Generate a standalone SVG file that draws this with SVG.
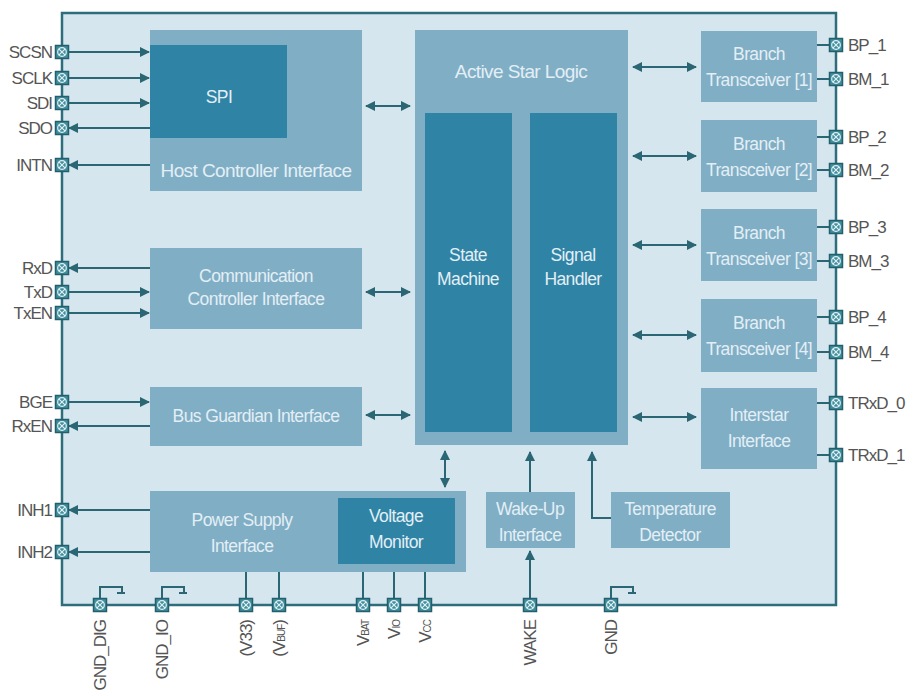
<svg xmlns="http://www.w3.org/2000/svg" width="913" height="696" viewBox="0 0 913 696">
<style>
.chip{fill:#d5e6ef;stroke:#2e6d7c;stroke-width:2.5}
.mid{fill:#80aec5}
.dark{fill:#2f83a5}
.bt{font-family:"Liberation Sans",Arial,sans-serif;font-size:17.5px;fill:#e3eff5;text-anchor:middle;letter-spacing:-0.6px}
.big{font-size:19px}
.lbl{font-family:"Liberation Sans",Arial,sans-serif;font-size:17px;fill:#555;letter-spacing:-1px}
.c{fill:none;stroke:#2a6674;stroke-width:2}
.a{marker-end:url(#ah)}
.b{marker-start:url(#ahs);marker-end:url(#ah)}
</style>
<defs>
<marker id="ah" viewBox="0 0 10 10" refX="9" refY="5" markerWidth="10" markerHeight="10" markerUnits="userSpaceOnUse" orient="auto"><path d="M0,0 L10,5 L0,10 z" fill="#2a6674"/></marker>
<marker id="ahs" viewBox="0 0 10 10" refX="1" refY="5" markerWidth="10" markerHeight="10" markerUnits="userSpaceOnUse" orient="auto"><path d="M10,0 L0,5 L10,10 z" fill="#2a6674"/></marker>
<g id="pin"><rect x="-6.5" y="-6.5" width="13" height="13" fill="#3e8e9d" stroke="#255f6c" stroke-width="1.5"/><circle r="4.3" fill="none" stroke="#e2f0f3" stroke-width="1.2"/><path d="M-3.2,-3.2 L3.2,3.2 M3.2,-3.2 L-3.2,3.2" stroke="#e2f0f3" stroke-width="1.2"/></g>
</defs>
<rect width="913" height="696" fill="#ffffff"/>
<rect id="chip" class="chip" x="62" y="13" width="774" height="592"/>

<g id="host-controller-interface"><rect class="mid" x="150" y="30" width="212" height="161"/><text class="bt big" x="256" y="177">Host Controller Interface</text></g>
<g id="spi"><rect class="dark" x="150" y="45" width="137" height="93"/><text class="bt" x="219" y="103">SPI</text></g>
<g id="comm-controller-interface"><rect class="mid" x="150" y="248" width="212" height="81"/><text class="bt" x="256" y="282">Communication</text><text class="bt" x="256" y="305">Controller Interface</text></g>
<g id="bus-guardian-interface"><rect class="mid" x="150" y="387" width="212" height="59"/><text class="bt" x="256" y="422">Bus Guardian Interface</text></g>
<g id="active-star-logic"><rect class="mid" x="415" y="30" width="213" height="415"/><text class="bt big" x="521" y="78">Active Star Logic</text></g>
<g id="state-machine"><rect class="dark" x="425" y="113" width="87" height="319"/><text class="bt" x="468" y="261">State</text><text class="bt" x="468" y="285">Machine</text></g>
<g id="signal-handler"><rect class="dark" x="530" y="113" width="87" height="319"/><text class="bt" x="573" y="261">Signal</text><text class="bt" x="573" y="285">Handler</text></g>
<g id="power-supply-interface"><rect class="mid" x="150" y="491" width="316" height="81"/><text class="bt" x="242" y="526">Power Supply</text><text class="bt" x="242" y="552">Interface</text></g>
<g id="voltage-monitor"><rect class="dark" x="338" y="498" width="117" height="66"/><text class="bt" x="396" y="522">Voltage</text><text class="bt" x="396" y="548">Monitor</text></g>
<g id="wake-up-interface"><rect class="mid" x="486" y="492" width="89" height="56"/><text class="bt" x="530" y="515">Wake-Up</text><text class="bt" x="530" y="541">Interface</text></g>
<g id="temperature-detector"><rect class="mid" x="611" y="492" width="119" height="56"/><text class="bt" x="670" y="515">Temperature</text><text class="bt" x="670" y="541">Detector</text></g>
<g id="branch-transceiver-1"><rect class="mid" x="701" y="31" width="116" height="71"/><text class="bt" x="759" y="60">Branch</text><text class="bt" x="759" y="86">Transceiver [1]</text></g>
<g id="branch-transceiver-2"><rect class="mid" x="701" y="120" width="116" height="72"/><text class="bt" x="759" y="150">Branch</text><text class="bt" x="759" y="176">Transceiver [2]</text></g>
<g id="branch-transceiver-3"><rect class="mid" x="701" y="209" width="116" height="72"/><text class="bt" x="759" y="239">Branch</text><text class="bt" x="759" y="265">Transceiver [3]</text></g>
<g id="branch-transceiver-4"><rect class="mid" x="701" y="299" width="116" height="73"/><text class="bt" x="759" y="329">Branch</text><text class="bt" x="759" y="355">Transceiver [4]</text></g>
<g id="interstar-interface"><rect class="mid" x="701" y="388" width="116" height="81"/><text class="bt" x="759" y="421">Interstar</text><text class="bt" x="759" y="447">Interface</text></g>

<g id="connectors">
<path class="c a" d="M68 52 H149"/>
<path class="c a" d="M68 78 H149"/>
<path class="c a" d="M68 103 H149"/>
<path class="c a" d="M150 128 H69"/>
<path class="c a" d="M150 165 H69"/>
<path class="c a" d="M150 268 H69"/>
<path class="c a" d="M68 292 H149"/>
<path class="c a" d="M68 313 H149"/>
<path class="c a" d="M68 402 H149"/>
<path class="c a" d="M150 426 H69"/>
<path class="c a" d="M150 510 H69"/>
<path class="c a" d="M150 552 H69"/>
<path class="c b" d="M366 106 H410"/>
<path class="c b" d="M366 292 H410"/>
<path class="c b" d="M366 415 H410"/>
<path class="c b" d="M633 67 H696"/>
<path class="c b" d="M633 156 H696"/>
<path class="c b" d="M633 245 H696"/>
<path class="c b" d="M633 335 H696"/>
<path class="c b" d="M633 417 H696"/>
<path class="c b" d="M445 451 V487"/>
<path class="c a" d="M530 492 V452"/>
<path class="c a" d="M611 518 H592 V452"/>
<path class="c a" d="M530 598 V551"/>
<path class="c" d="M246 572 V599 M279 572 V599 M363 572 V599 M394 572 V599 M425 572 V599"/>
<path class="c" d="M817 45 H830 M817 79 H830 M817 137 H830 M817 170 H830 M817 227 H830 M817 261 H830 M817 317 H830 M817 352 H830 M817 403 H830 M817 455 H830"/>
<path class="c" d="M100 598 V587 H122 V593 M117 593 H125"/>
<path class="c" d="M162 598 V587 H184 V593 M179 593 H187"/>
<path class="c" d="M611 598 V587 H633 V593 M628 593 H636"/>
</g>

<g id="pins">
<use href="#pin" x="62" y="52"/><use href="#pin" x="62" y="78"/><use href="#pin" x="62" y="103"/><use href="#pin" x="62" y="128"/><use href="#pin" x="62" y="165"/>
<use href="#pin" x="62" y="268"/><use href="#pin" x="62" y="292"/><use href="#pin" x="62" y="313"/>
<use href="#pin" x="62" y="402"/><use href="#pin" x="62" y="426"/>
<use href="#pin" x="62" y="510"/><use href="#pin" x="62" y="552"/>
<use href="#pin" x="836" y="45"/><use href="#pin" x="836" y="79"/><use href="#pin" x="836" y="137"/><use href="#pin" x="836" y="170"/>
<use href="#pin" x="836" y="227"/><use href="#pin" x="836" y="261"/><use href="#pin" x="836" y="317"/><use href="#pin" x="836" y="352"/>
<use href="#pin" x="836" y="403"/><use href="#pin" x="836" y="455"/>
<use href="#pin" x="100" y="605"/><use href="#pin" x="162" y="605"/><use href="#pin" x="246" y="605"/><use href="#pin" x="279" y="605"/>
<use href="#pin" x="363" y="605"/><use href="#pin" x="394" y="605"/><use href="#pin" x="425" y="605"/><use href="#pin" x="530" y="605"/><use href="#pin" x="611" y="605"/>
</g>

<g id="pin-labels">
<g text-anchor="end">
<text class="lbl" x="52" y="58">SCSN</text>
<text class="lbl" x="52" y="84">SCLK</text>
<text class="lbl" x="52" y="109">SDI</text>
<text class="lbl" x="52" y="134">SDO</text>
<text class="lbl" x="52" y="171">INTN</text>
<text class="lbl" x="52" y="274">RxD</text>
<text class="lbl" x="52" y="298">TxD</text>
<text class="lbl" x="52" y="319">TxEN</text>
<text class="lbl" x="52" y="408">BGE</text>
<text class="lbl" x="52" y="432">RxEN</text>
<text class="lbl" x="52" y="516">INH1</text>
<text class="lbl" x="52" y="558">INH2</text>
</g>
<text class="lbl" x="848" y="51">BP_1</text>
<text class="lbl" x="848" y="85">BM_1</text>
<text class="lbl" x="848" y="143">BP_2</text>
<text class="lbl" x="848" y="176">BM_2</text>
<text class="lbl" x="848" y="233">BP_3</text>
<text class="lbl" x="848" y="267">BM_3</text>
<text class="lbl" x="848" y="323">BP_4</text>
<text class="lbl" x="848" y="358">BM_4</text>
<text class="lbl" x="848" y="409">TRxD_0</text>
<text class="lbl" x="848" y="461">TRxD_1</text>
<g text-anchor="end">
<text class="lbl" transform="translate(106 620) rotate(-90)">GND_DIG</text>
<text class="lbl" transform="translate(168 620) rotate(-90)">GND_IO</text>
<text class="lbl" transform="translate(252 620) rotate(-90)">(V33)</text>
<text class="lbl" transform="translate(285 620) rotate(-90)">(V<tspan font-size="10">BUF</tspan>)</text>
<text class="lbl" transform="translate(369 620) rotate(-90)">V<tspan font-size="10">BAT</tspan></text>
<text class="lbl" transform="translate(400 620) rotate(-90)">V<tspan font-size="10">IO</tspan></text>
<text class="lbl" transform="translate(431 620) rotate(-90)">V<tspan font-size="10">CC</tspan></text>
<text class="lbl" transform="translate(536 620) rotate(-90)">WAKE</text>
<text class="lbl" transform="translate(617 620) rotate(-90)">GND</text>
</g>
</g>
</svg>
